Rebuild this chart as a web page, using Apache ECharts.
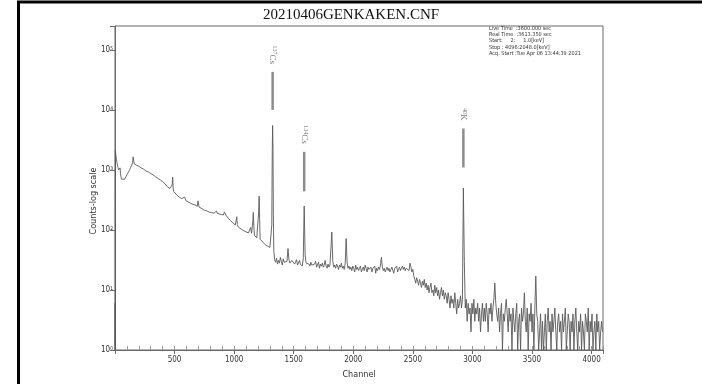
<!DOCTYPE html>
<html><head><meta charset="utf-8">
<script src="https://cdn.jsdelivr.net/npm/echarts@6/dist/echarts.min.js"></script>
<style>html,body{margin:0;padding:0;background:#fff}#c{width:702px;height:384px}</style>
</head><body><div id="c"></div>
<script>
// ---- data ----
const chartTitle = '20210406GENKAKEN.CNF';
const infoLines = [
  'Live Time  :3600.000 sec',
  'Real Time  :3613.350 sec',
  'Start:     2:     1.0[keV]',
  'Stop : 4096:2048.0[keV]',
  'Acq. Start :Tue Apr 06 13:44:39 2021'
];
const lowChannels = [
  0,1,2,3,5,8,12,16,20,25,
  30,35,40,43,46,50,55,60,65,70,
  80,90,100,110,120,130,140,148,152,155,
  158,162,166,170,180,190,200,220,240,260,
  280,300,320,340,360,380,400,420,440,460,
  475,480,484,488,492,500,520,540,560,575,
  585,590,595,610,630,650,670,690,697,701,
  705,710,730,750,770,790,810,830,845,852,
  858,870,890,910,918,924,930,940,950,960,
  970,980,990,1000,1010,1018,1022,1026,1035,1050,
  1060,1070,1080,1090,1100,1110,1120,1130,1138,1142,
  1146,1150,1157,1161,1165,1170,1180,1190,1200,1206,
  1210,1214,1218,1230,1240,1250,1260,1270,1280,1290,
  1300,1310,1316,1320,1323,1326,1329,1333
];
const lowCounts = [
  1,6,1,2150,1950,1700,1500,1330,1200,1100,
  1000,940,990,1080,880,770,700,665,650,660,
  700,760,830,900,980,1080,1200,1310,1650,1720,
  1380,1260,1340,1240,1200,1170,1150,1080,1030,960,
  925,870,825,770,725,680,640,585,525,490,
  462,560,760,500,440,425,380,352,333,318,
  352,340,308,296,282,268,262,248,305,318,
  242,236,226,212,208,198,196,190,186,206,
  190,186,181,178,200,196,177,170,158,150,
  143,135,131,125,121,150,166,124,112,109,
  103,101,97,96,93,92,89,88,110,117,
  88,84,140,196,118,81,77,74,72,200,
  365,150,70,66,63,62,57,60,54,55,
  51,55,120,2100,5500,2400,190,44
];
const tailStart = 1340;
const tailStep = 8;
const tailCounts = [
  32,29,34,27,31,28,35,30,26,33,29,31,27,30,49,32,28,26,31,29,
  30,27,29,32,26,28,31,27,29,25,33,250,38,28,26,30,27,25,29,26,
  28,25,27,30,24,26,29,23,27,25,28,24,26,31,25,23,27,24,26,25,
  92,30,24,26,23,27,25,22,26,24,28,23,25,22,27,72,29,23,25,22,
  24,21,25,23,20,26,22,24,21,23,25,20,22,24,21,26,23,20,24,22,
  21,24,20,23,22,25,19,23,21,24,22,26,35,24,21,23,20,22,24,21,
  23,20,22,24,21,19,23,22,25,20,22,24,21,23,25,22,24,21,23,22,
  23,21,28,24,20,22,17,15,13,16,14,12,15,13,11,14,12,15,11,13,
  10,12,9,11,13,9,10,8,12,9,11,8,10,7,9,11,8,10,7,9,
  8,6,9,7,5,8,6,7,5,9,6,4,7,5,6,8,5,7,500,30,
  5,7,3,6,4,5,2,6,4,7,3,5,4,6,3,5,2,4,6,3,
  5,3,6,4,2,5,4,6,3,5,7,13,6,4,3,5,2,4,6,1,
  4,3,5,7,4,2,5,3,4,1,5,3,2,4,6,1,3,4,1,5,
  3,4,9,3,2,5,1,4,3,6,2,4,1,5,17,4,3,1,2,4,
  1,3,1,2,4,1,3,5,2,3,1,4,2,3,5,2,1,3,4,2,
  3,1,4,2,3,5,1,2,4,3,1,3,2,4,1,3,5,2,1,3,
  2,4,1,3,2,1,4,3,2,5,1,3,2,4,1,2,3,1,4,2,3,1,2,3,2
];
const peakMass = ['137','134','40'];
const peakElement = ['Cs','Cs','K'];
const peakChannels = [1323, 1588, 2924];
const peakLineTop = [43000, 2000, 4900];
const peakLineBottom = [10000, 440, 1100];
const xTickLabels = [500,1000,1500,2000,2500,3000,3500,4000];

// ---- build ----
const spectrum = lowChannels.map((c,i)=>[c, lowCounts[i]]);
tailCounts.forEach((v,i)=>spectrum.push([tailStart + i*tailStep, v]));
const peakData = peakChannels.map((c,i)=>[c, peakLineTop[i], peakLineBottom[i]]);

const chart = echarts.init(document.getElementById('c'), null, {renderer:'canvas'});
const axisGray = '#6a6a6a';
const labelFont = '"Liberation Sans Narrow","DejaVu Sans Condensed",sans-serif';
chart.setOption({
  animation:false,
  backgroundColor:'#fff',
  title:{text:chartTitle,left:'center',top:3,
    textStyle:{fontFamily:'"Liberation Serif","DejaVu Serif",serif',fontSize:15,fontWeight:'normal',color:'#111'}},
  grid:{left:115,right:99,top:26,bottom:33,show:true,borderColor:axisGray,borderWidth:1,backgroundColor:'transparent'},
  xAxis:[{
    type:'value',min:0,max:4096,interval:500,
    name:'Channel',nameLocation:'middle',nameGap:20,
    nameTextStyle:{fontFamily:labelFont,fontSize:9,color:'#333'},
    axisLine:{lineStyle:{color:axisGray}},
    axisTick:{show:true,length:4,inside:false,lineStyle:{color:axisGray}},
    axisLabel:{fontFamily:labelFont,fontSize:8,color:'#333',margin:6,
      formatter:v=>xTickLabels.indexOf(v)>=0?String(v):''},
    splitLine:{show:false}
  },{
    type:'value',min:0,max:4096,interval:100,position:'bottom',
    axisLine:{show:false},
    axisTick:{show:true,inside:true,length:4,lineStyle:{color:'#999'}},
    axisLabel:{show:false},splitLine:{show:false}
  }],
  yAxis:{
    type:'log',logBase:10,min:1,max:250000,
    axisLine:{lineStyle:{color:axisGray}},
    axisTick:{show:true,length:5,lineStyle:{color:axisGray}},
    splitLine:{show:false},
    axisLabel:{margin:2,color:'#333',
      formatter:v=>{const l=Math.log10(v);const e=Math.round(l);if(Math.abs(l-e)>1e-6)return '';return '{b|10}{s|'+e+'}';},
      rich:{b:{fontFamily:labelFont,fontSize:8,color:'#333'},s:{fontFamily:labelFont,fontSize:5,color:'#333',verticalAlign:'top'}}}
  },
  graphic:[
    {type:'rect',shape:{x:18.5,y:2,width:900,height:600},style:{fill:'none',stroke:'#000',lineWidth:3},silent:true},
    {type:'text',x:94,y:201,rotation:Math.PI/2,
      style:{text:'Counts-log scale',align:'center',verticalAlign:'middle',fontFamily:labelFont,fontSize:9,fill:'#333'}},
    {type:'text',x:489,y:25,
      style:{text:infoLines.join('\n'),lineHeight:6.4,fontFamily:labelFont,fontSize:5.5,fill:'#333',align:'left',verticalAlign:'top'}}
  ],
  series:[{
    type:'line',data:spectrum,showSymbol:false,symbol:'none',
    lineStyle:{color:'#595959',width:0.9},clip:true,z:3
  },{
    type:'custom',data:peakData,encode:{x:0,y:[1,2]},z:4,
    renderItem:(params,api)=>{
      const i=params.dataIndex;
      const top=api.coord([api.value(0),api.value(1)]);
      const bot=api.coord([api.value(0),api.value(2)]);
      return {type:'group',children:[
        {type:'line',shape:{x1:top[0],y1:top[1],x2:bot[0],y2:bot[1]},style:{stroke:'#8c8c8c',lineWidth:2.5}},
        {type:'text',x:top[0],y:top[1]-8,rotation:-Math.PI/2,
          style:{text:'{s|'+peakMass[i]+'}{n|'+peakElement[i]+'}',align:'right',verticalAlign:'middle',
            rich:{s:{fontSize:6,fill:'#777',fontFamily:'"Liberation Serif",serif',verticalAlign:'top'},
                  n:{fontSize:9,fill:'#777',fontFamily:'"Liberation Serif",serif'}}}}
      ]};
    }
  }]
});
</script></body></html>
